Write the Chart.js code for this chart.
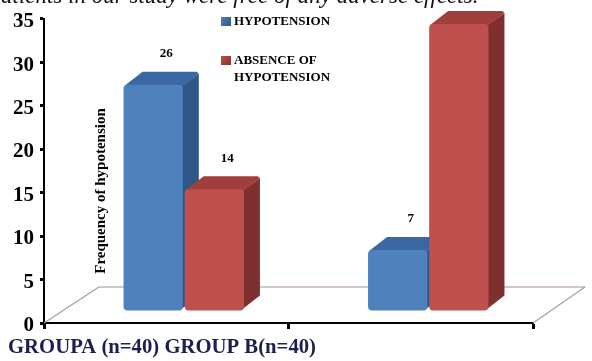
<!DOCTYPE html>
<html>
<head>
<meta charset="utf-8">
<style>
  html, body { margin: 0; padding: 0; background: #ffffff; }
  #wrap { width: 592px; height: 361px; position: relative; }
</style>
<script src="https://cdn.jsdelivr.net/npm/chart.js@4.4.1/dist/chart.umd.min.js"></script>
</head>
<body>
<div id="wrap"><canvas id="c" width="592" height="361"></canvas></div>
<script>
// Groups and counts
const groups = ['GROUPA (n=40)', 'GROUP B(n=40)'];
const hypotension = [26, 7];
const absenceOfHypotension = [14, 33];
const seriesNames = ['HYPOTENSION', 'ABSENCE OF HYPOTENSION'];
const yTickValues = [0, 5, 10, 15, 20, 25, 30, 35];
const yAxisTitle = 'Frequency of hypotension';
const noteText = 'Patients in our study were free of any adverse effects.';

const SERIF = '"Liberation Serif", "Times New Roman", serif';

// Pseudo-3D look: bars stand part-way into the floor, and get a side and top face
const PLACE_X = 17.5, PLACE_Y = -12;   // bar position inside the floor depth
const DEPTH_X = 16, DEPTH_Y = -13;     // extrusion of each bar
const FLOOR_X = 55, FLOOR_Y = -36;     // floor depth

const palette = [
  { front: '#4f81bd', side: '#2f5786', top: '#3c68a2' },
  { front: '#c0504d', side: '#7f2f2d', top: '#a03f3c' }
];

function poly(ctx, pts, fill) {
  ctx.beginPath();
  ctx.moveTo(pts[0][0], pts[0][1]);
  for (let i = 1; i < pts.length; i++) ctx.lineTo(pts[i][0], pts[i][1]);
  ctx.closePath();
  ctx.fillStyle = fill;
  ctx.fill();
}

const depthPlugin = {
  id: 'depth',
  beforeDatasetsDraw(chart) {
    const ctx = chart.ctx;
    const a = chart.chartArea;
    // floor outline
    ctx.save();
    ctx.lineWidth = 1.2;
    ctx.strokeStyle = '#a0a0a0';
    ctx.beginPath();
    ctx.moveTo(a.left, a.bottom);
    ctx.lineTo(a.left + FLOOR_X, a.bottom + FLOOR_Y);
    ctx.stroke();
    ctx.beginPath();
    ctx.moveTo(a.right, a.bottom);
    ctx.lineTo(a.right + FLOOR_X - 3, a.bottom + FLOOR_Y);
    ctx.stroke();
    ctx.strokeStyle = '#a88f8c';
    ctx.beginPath();
    ctx.moveTo(a.left + FLOOR_X, a.bottom + FLOOR_Y);
    ctx.lineTo(a.right + FLOOR_X - 3, a.bottom + FLOOR_Y);
    ctx.stroke();
    ctx.restore();

    // shifted drawing for the bars; restored after datasets are drawn
    ctx.save();
    ctx.translate(PLACE_X, PLACE_Y);
    chart.data.datasets.forEach((ds, di) => {
      const meta = chart.getDatasetMeta(di);
      const col = palette[di];
      meta.data.forEach(el => {
        const p = el.getProps(['x', 'y', 'base', 'width'], true);
        const l = p.x - p.width / 2, r = p.x + p.width / 2;
        const t = p.y, b = p.base;
        // side face
        poly(ctx, [[r - 2, t + 2], [r + DEPTH_X, t + DEPTH_Y + 2], [r + DEPTH_X, b + DEPTH_Y - 2], [r - 2, b - 1]], col.side);
        // top face
        poly(ctx, [[l + 1, t + 1], [l + DEPTH_X + 3, t + DEPTH_Y], [r + DEPTH_X - 2, t + DEPTH_Y], [r + DEPTH_X, t + DEPTH_Y + 2], [r - 1, t + 2]], col.top);
      });
    });
  },
  afterDatasetsDraw(chart) {
    chart.ctx.restore();
  },
  afterDraw(chart) {
    const ctx = chart.ctx;
    ctx.save();

    // value labels over the bars
    ctx.fillStyle = '#000';
    ctx.font = 'bold 13px ' + SERIF;
    ctx.textAlign = 'center';
    ctx.textBaseline = 'middle';
    chart.data.datasets.forEach((ds, di) => {
      const meta = chart.getDatasetMeta(di);
      meta.data.forEach((el, i) => {
        const p = el.getProps(['x', 'y'], true);
        ctx.fillText(String(ds.data[i]), p.x + PLACE_X + 13, p.y + PLACE_Y - 31);
      });
    });

    // legend
    const legendRows = [
      { y: 22, lines: ['HYPOTENSION'] },
      { y: 61, lines: ['ABSENCE OF', 'HYPOTENSION'] }
    ];
    ctx.textAlign = 'left';
    ctx.font = 'bold 13px ' + SERIF;
    legendRows.forEach((row, i) => {
      const g = ctx.createLinearGradient(221, row.y - 5, 231, row.y + 4);
      g.addColorStop(0, palette[i].front);
      g.addColorStop(1, palette[i].side);
      ctx.fillStyle = g;
      ctx.fillRect(221, row.y - 5, 10, 9);
      ctx.fillStyle = '#000';
      row.lines.forEach((ln, k) => ctx.fillText(ln, 234, row.y + k * 17));
    });

    // vertical title inside the plot
    ctx.save();
    ctx.translate(101, 191);
    ctx.rotate(-Math.PI / 2);
    ctx.textAlign = 'center';
    ctx.font = 'bold 15px ' + SERIF;
    ctx.fillStyle = '#000';
    ctx.fillText(yAxisTitle, 0, 0);
    ctx.restore();

    // group caption under the axis
    ctx.font = 'bold 20px ' + SERIF;
    ctx.fillStyle = '#1c2050';
    ctx.textAlign = 'left';
    const cap = groups.join(' ');
    const w = ctx.measureText(cap).width;
    ctx.save();
    ctx.translate(8, 348);
    ctx.scale(308 / w, 1);
    ctx.fillText(cap, 0, 0);
    ctx.restore();

    // line of running text above the chart
    ctx.font = 'italic 23px ' + SERIF;
    ctx.fillStyle = '#111';
    ctx.textBaseline = 'alphabetic';
    ctx.fillText(noteText, -13, 3);

    ctx.restore();
  }
};

new Chart(document.getElementById('c'), {
  type: 'bar',
  data: {
    labels: groups,
    datasets: [
      { label: seriesNames[0], data: hypotension, backgroundColor: palette[0].front },
      { label: seriesNames[1], data: absenceOfHypotension, backgroundColor: palette[1].front }
    ]
  },
  options: {
    responsive: false,
    animation: false,
    devicePixelRatio: 1,
    layout: { padding: { top: 13, right: 59, left: 0, bottom: 0 } },
    datasets: {
      bar: {
        categoryPercentage: 0.5,
        barPercentage: 0.97,
        borderRadius: 4,
        borderSkipped: false,
        clip: false
      }
    },
    plugins: { legend: { display: false }, tooltip: { enabled: false } },
    scales: {
      x: {
        ticks: { display: false },
        grid: { drawOnChartArea: false, tickLength: 6, tickWidth: 3, color: '#000', offset: true },
        border: { display: true, color: '#000', width: 2 },
        afterFit(s) { s.height = 38; }
      },
      y: {
        min: 0,
        max: 35,
        afterBuildTicks(s) { s.ticks = yTickValues.map(v => ({ value: v })); },
        ticks: {
          color: '#000',
          padding: 6,
          labelOffset: 3,
          font: { family: SERIF, size: 21, weight: 'bold' }
        },
        grid: { drawOnChartArea: false, tickLength: 4, tickWidth: 3, color: '#000' },
        border: { display: true, color: '#000', width: 2 },
        afterFit(s) { s.width = 44; }
      }
    }
  },
  plugins: [depthPlugin]
});
</script>
</body>
</html>
